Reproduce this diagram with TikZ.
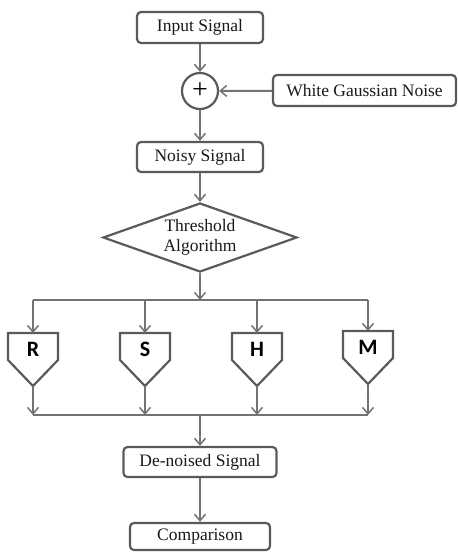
\documentclass[tikz,border=0pt]{standalone}
\usepackage{fontspec}
\setmainfont{Liberation Serif}
\newfontfamily\letterfont{Carlito}
\usetikzlibrary{arrows.meta,shapes.geometric}
\definecolor{linec}{RGB}{115,115,115}
\definecolor{boxc}{RGB}{90,90,90}
\definecolor{txtc}{RGB}{25,25,25}
\tikzset{
  sigbox/.style={draw=boxc, line width=2.2pt, rounded corners=4pt, inner sep=0pt,
    font=\fontsize{17.5}{20}\selectfont, text=txtc},
  conn/.style={draw=linec, line width=2pt, -{Straight Barb[length=6.5pt,width=11pt,line width=1.5pt]}},
  plainline/.style={draw=linec, line width=2pt},
  pent/.style={draw=boxc, line width=2.2pt, fill=white},
  letter/.style={font=\letterfont\bfseries\fontsize{22}{24}\selectfont, text=black, inner sep=0pt}
}
\begin{document}
\begin{tikzpicture}[x=1pt,y=-1pt]
\useasboundingbox (0,0) rectangle (458,552);
% boxes
\node[sigbox, minimum width=126pt, minimum height=31pt] (input) at (200,27.5) {Input Signal};
\node[draw=boxc, line width=2.2pt, circle, minimum size=36pt, inner sep=0pt, font=\fontsize{28}{28}\selectfont, text=black] (sum) at (200,91) {\raisebox{1pt}{+}};
\node[sigbox, minimum width=183pt, minimum height=31pt] (noise) at (364.5,90.5) {White Gaussian Noise};
\node[sigbox, minimum width=126pt, minimum height=30pt] (noisy) at (200,157) {Noisy Signal};
\node[draw=boxc, line width=2.2pt, diamond, aspect=2.8, minimum width=194pt, minimum height=69pt, inner sep=0pt,
  font=\fontsize{17.5}{20.5}\selectfont, text=txtc, align=center] (thr) at (200,237.5) {Threshold\\Algorithm};
\node[sigbox, minimum width=153pt, minimum height=30pt] (denoised) at (200,462) {De-noised Signal};
\node[sigbox, minimum width=140pt, minimum height=27pt] (comp) at (200,536.5) {Comparison};
% pentagons
\foreach \n/\cx/\ty in {R/33/333,S/145/333,H/257/333,M/368/331}{
  \coordinate (\n-top) at (\cx,\ty);
  \coordinate (\n-tip) at (\cx,\ty+53);
  \draw[pent] (\cx-25,\ty) -- (\cx+25,\ty) -- (\cx+25,\ty+27) -- (\n-tip) -- (\cx-25,\ty+27) -- cycle;
  \node[letter] (\n) at (\cx,\ty+16) {\n};
  \coordinate (\n-up) at (\cx,300);
  \coordinate (\n-down) at (\cx,415);
}
\coordinate (split) at (200,300);
\coordinate (join) at (200,415);
% connectors
\draw[conn] (input) -- (sum);
\draw[conn] (noise) -- (sum);
\draw[conn] (sum) -- (noisy);
\draw[conn] (noisy) -- (thr);
\draw[conn] (thr) -- (split);
\draw[plainline] (R-up) -- (M-up);
\foreach \n in {R,S,H,M}{
  \draw[conn] (\n-up) -- (\n-top);
  \draw[conn] (\n-tip) -- (\n-down);
}
\draw[plainline] (R-down) -- (M-down);
\draw[conn] (join) -- (denoised);
\draw[conn] (denoised) -- (comp);
\end{tikzpicture}
\end{document}
